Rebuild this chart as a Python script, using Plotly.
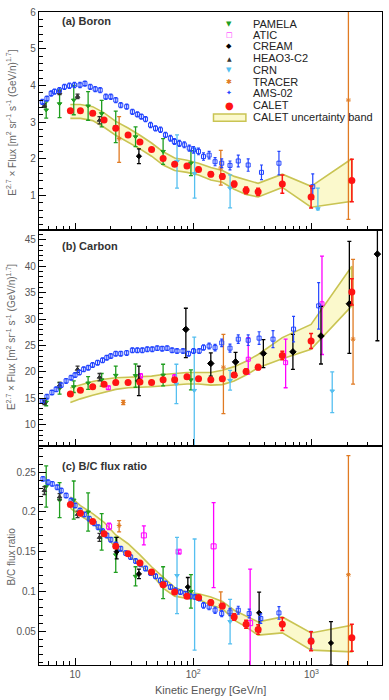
import plotly.graph_objects as go
from plotly.subplots import make_subplots

# ---------------- DATA ----------------
E_calet = [9.13, 11.1, 14.1, 17.6, 22.1, 28.1, 35.4, 44.4, 55.6, 69.6, 88.5, 110.9,
           140.8, 176.3, 222, 280, 354, 567, 993, 2197]
# Boron
calet_b = [3.31, 3.31, 3.24, 3.06, 2.83, 2.65, 2.46, 2.25, 2.01, 1.85, 1.80, 1.71,
           1.58, 1.52, 1.31, 1.14, 1.10, 1.31, 0.96, 1.41]
calet_b_err = [0.02, 0.02, 0.02, 0.02, 0.03, 0.03, 0.03, 0.03, 0.04, 0.04, 0.05, 0.05,
               0.06, 0.07, 0.08, 0.09, 0.1, 0.25, 0.3, 0.58]
band_b_up = [3.48, 3.48, 3.42, 3.25, 3.02, 2.84, 2.64, 2.43, 2.19, 2.02, 1.96, 1.88,
             1.76, 1.68, 1.52, 1.42, 1.33, 1.58, 1.25, 2.00]
band_b_lo = [3.10, 3.10, 3.04, 2.86, 2.64, 2.46, 2.27, 2.07, 1.83, 1.68, 1.63, 1.56,
             1.42, 1.36, 1.17, 1.03, 0.96, 1.22, 0.68, 0.84]
# Carbon
calet_c = [15.8, 16.55, 17.17, 17.68, 17.98, 17.98, 18.1, 17.98, 18.5, 18.5, 19.1, 18.7,
           18.5, 18.7, 19.4, 20.1, 20.9, 23.1, 25.85, 35.15]
calet_c_err = [0.15, 0.15, 0.15, 0.15, 0.2, 0.2, 0.2, 0.2, 0.2, 0.25, 0.25, 0.3,
               0.3, 0.35, 0.4, 0.45, 0.5, 0.8, 1.4, 2.5]
band_c_up = [17.0, 17.6, 18.2, 18.6, 18.9, 19.0, 19.1, 19.2, 19.5, 19.7, 19.9, 19.9,
             19.9, 20.3, 21.0, 22.0, 23.3, 26.5, 29.0, 40.0]
band_c_lo = [14.2, 14.9, 15.6, 16.2, 16.7, 17.0, 17.1, 17.2, 17.4, 17.5, 17.7, 17.7,
             17.5, 17.6, 18.3, 19.4, 20.8, 22.5, 24.3, 32.5]
# B/C
calet_r = [0.2094, 0.1985, 0.188, 0.1726, 0.1567, 0.1475, 0.1357, 0.1244, 0.1085, 0.0992,
           0.0938, 0.0922, 0.0859, 0.0817, 0.0678, 0.0587, 0.052, 0.0587, 0.0373, 0.0415]
calet_r_err = [0.001, 0.001, 0.001, 0.001, 0.0015, 0.0015, 0.0015, 0.002, 0.002, 0.002,
               0.0025, 0.0025, 0.003, 0.003, 0.004, 0.005, 0.006, 0.008, 0.012, 0.017]
band_r_up = [0.219, 0.208, 0.198, 0.187, 0.171, 0.160, 0.146, 0.131, 0.118, 0.105, 0.099,
             0.097, 0.093, 0.0873, 0.0763, 0.0687, 0.0616, 0.0678, 0.0477, 0.0574]
band_r_lo = [0.205, 0.195, 0.186, 0.172, 0.155, 0.146, 0.133, 0.122, 0.104, 0.094, 0.091,
             0.090, 0.0825, 0.0784, 0.0637, 0.0553, 0.0449, 0.0477, 0.026, 0.0239]

# AMS-02
ams_E_b = [5.28, 5.78, 6.28, 6.70, 7.38, 8.13, 8.96, 9.87, 11.02, 12.13, 13.45, 14.81, 16.32,
           18.22, 20.07, 22.11, 24.36, 27.35, 30.54, 33.65, 36.35, 39.5, 43.52, 47.94, 52.8,
           58.17, 64.08, 69.22, 76.27, 84.02, 92.57, 100.6, 110.8, 122.1, 136.3, 153, 174.2,
           204.6, 240.3, 291.6, 377.8, 531, 1026]
ams_b = [3.55, 3.64, 3.78, 3.83, 3.87, 3.96, 3.99, 4.01, 4.01, 4.05, 3.96, 3.90, 3.87, 3.69,
         3.69, 3.60, 3.46, 3.42, 3.28, 3.21, 3.15, 3.08, 2.92, 2.83, 2.79, 2.65, 2.56, 2.47,
         2.42, 2.38, 2.29, 2.24, 2.20, 2.06, 2.10, 1.92, 1.88, 1.82, 1.94, 1.83, 1.63, 1.88, 1.24]
ams_b_err = [0.07] * 26 + [0.08, 0.08, 0.08, 0.08, 0.08, 0.09, 0.09, 0.1, 0.1, 0.11, 0.12,
                           0.12, 0.16, 0.17, 0.2, 0.32, 0.35]
ams_E_c = [5.28, 5.78, 6.37, 6.92, 7.63, 8.40, 9.26, 10.0, 10.87, 11.83, 12.94, 14.08, 15.51,
           17.09, 18.57, 20.07, 22.11, 24.36, 27.35, 30.54, 33.65, 37.07, 40.83, 44.98, 49.55,
           54.58, 60.12, 66.23, 72.95, 81.92, 91.3, 100.6, 112.3, 122.1, 136.3, 153.0, 174.2,
           204.6, 240.3, 291.6, 360.7, 472.9, 706, 1151]
ams_c = [14.5, 15.3, 16.1, 16.7, 17.5, 18.3, 18.9, 19.4, 19.9, 20.5, 20.8, 21.3, 21.75, 22.2,
         22.7, 23.0, 23.45, 23.45, 23.6, 24.1, 24.1, 24.1, 24.3, 24.3, 24.5, 24.4, 24.5, 24.1,
         23.96, 23.96, 23.45, 23.96, 23.96, 24.6, 24.9, 24.6, 25.5, 24.5, 26.2, 26.0, 26.4,
         26.2, 28.1, 32.5]
ams_c_err = [0.45] * 33 + [0.5, 0.55, 0.6, 0.7, 0.75, 0.8, 1.0, 1.2, 1.6, 2.4, 4.4]
ams_E_r = [5.35, 5.90, 6.41, 7.06, 7.63, 8.40, 9.26, 10.0, 11.02, 11.97, 13.19, 14.53, 15.70,
           17.09, 18.57, 20.07, 22.11, 24.36, 26.83, 29.56, 32.55, 35.86, 39.5, 43.52, 47.94,
           52.8, 58.17, 64.08, 70.6, 77.77, 85.67, 94.4, 103.9, 113, 122.1, 136.3, 153, 174.2,
           204.6, 240.3, 297.3, 372.8, 531, 994]
ams_r = [0.2417, 0.2375, 0.2354, 0.2312, 0.227, 0.2207, 0.2145, 0.2082, 0.2019, 0.1969,
         0.1915, 0.1859, 0.1809, 0.1759, 0.1705, 0.1651, 0.1592, 0.1538, 0.1482, 0.1432,
         0.1382, 0.134, 0.1287, 0.1231, 0.119, 0.1139, 0.1098, 0.1055, 0.1014, 0.0992,
         0.0972, 0.0938, 0.093, 0.091, 0.0825, 0.0804, 0.0763, 0.0721, 0.0741, 0.0763,
         0.0721, 0.0658, 0.0729, 0.0386]
ams_r_err = [0.003] * 34 + [0.0035, 0.0035, 0.004, 0.004, 0.0045, 0.005, 0.0055, 0.006,
                            0.008, 0.011]

# PAMELA
pam_E = [5.7, 7.4, 9.75, 12.9, 16.8, 22.1, 32.5, 55.6, 95.6]
pam_b = [3.33, 3.5, 3.6, 3.44, 3.23, 2.87, 2.6, 2.2, 1.88]
pam_b_err = [0.22, 0.38, 0.4, 0.39, 0.36, 0.43, 0.27, 0.35, 0.34]
pam_c = [14.3, 16.9, 17.2, 17.9, 18.5, 19.35, 19.3, 19.4, 18.5]
pam_c_err = [0.7, 1.1, 1.1, 1.2, 1.2, 1.75, 2.2, 2.05, 1.9]
pam_r = [0.232, 0.215, 0.215, 0.20, 0.175, 0.146, 0.119, 0.111, 0.10]
pam_r_err = [0.026, 0.022, 0.024, 0.024, 0.023, 0.022, 0.012, 0.02, 0.021]

# HEAO3-C2
heao_E = [5.5, 7.4, 10.5, 16.1]
heao_b = [3.45, 3.8, 3.7, 3.05]
heao_b_err = [0.05, 0.05, 0.06, 0.1]
heao_c = [14.2, 17.5, 20.5, 19.0]
heao_c_err = [0.4, 0.5, 0.6, 0.7]
heao_r = [0.227, 0.219, 0.197, 0.168]
heao_r_err = [0.005, 0.004, 0.004, 0.005]

# CREAM
cream_E_b = [34.7]
cream_b = [2.07]
cream_b_ep = [0.2]
cream_b_em = [0.2]
cream_E_c = [34.7, 86.6, 140.8, 228, 392, 697, 1204, 2093, 3615]
cream_c = [18.3, 28.05, 21.6, 21.9, 23.5, 23.8, 26.8, 32.9, 42.3]
cream_c_ep = [2.8, 4.0, 2.0, 1.8, 2.6, 3.3, 5.6, 11.8, 5.0]
cream_c_em = [2.8, 5.35, 2.4, 2.6, 2.7, 3.3, 5.3, 9.4, 16.4]
cream_E_r = [22.5, 34.7, 90, 361, 1463]
cream_r = [0.15, 0.122, 0.1055, 0.073, 0.035]
cream_r_ep = [0.018, 0.006, 0.012, 0.026, 0.027]
cream_r_em = [0.009, 0.006, 0.012, 0.024, 0.028]

# ATIC
atic_E_c = [19.1, 35.8, 69.6, 292, 605, 1228]
atic_c = [17.0, 19.25, 19.0, 22.4, 21.75, 32.9]
atic_c_ep = [0.3, 0.4, 0.5, 4.1, 4.45, 9.0]
atic_c_em = [0.3, 0.4, 0.5, 2.8, 4.75, 9.6]
atic_E_r = [19.4, 38.2, 75.2, 148.7, 303]
atic_r = [0.1818, 0.1705, 0.15, 0.1567, 0.06]
atic_r_ep = [0.004, 0.012, 0.002, 0.055, 0.068]
atic_r_em = [0.004, 0.012, 0.002, 0.052, 0.06]

# TRACER
tr_E_b = [23.6, 171, 2055]
tr_b = [2.55, 1.75, 3.6]
tr_b_ep = [0.6, 0.48, 2.5]
tr_b_em = [0.65, 0.47, 3.25]
tr_E_c = [25.6, 180, 2250]
tr_c = [14.2, 20.9, 26.2]
tr_c_ep = [0.4, 6.2, 15.1]
tr_c_em = [0.4, 8.8, 8.5]
tr_E_r = [23.6, 171, 2055]
tr_r = [0.183, 0.0825, 0.121]
tr_r_ep = [0.006, 0.017, 0.15]
tr_r_em = [0.008, 0.006, 0.116]

# CRN
crn_E_b = [72.9, 102.7, 205, 1134]
crn_b = [1.93, 1.6, 1.2, 0.64]
crn_b_ep = [0.72, 0.69, 0.36, 0.56]
crn_b_em = [0.73, 0.67, 0.54, 0.03]
crn_E_c = [72, 102, 205, 1499]
crn_c = [17.7, 16.5, 18.4, 16.4]
crn_c_ep = [3.75, 10.1, 1.9, 3.6]
crn_c_em = [3.7, 11.5, 1.85, 4.1]
crn_E_r = [72.9, 102.7, 205]
crn_r = [0.12, 0.095, 0.062]
crn_r_ep = [0.048, 0.071, 0.028]
crn_r_em = [0.048, 0.069, 0.028]

x_ticks = [10, 100, 1000]
x_ticktext = ["10", "10<sup>2</sup>", "10<sup>3</sup>"]
x_minor = [6, 7, 8, 9, 20, 30, 40, 50, 60, 70, 80, 90,
           200, 300, 400, 500, 600, 700, 800, 900, 2000, 3000]

# ---------------- STYLE ----------------
C_PAM = "#1f9e1f"
C_ATIC = "#ff00ff"
C_CREAM = "#000000"
C_HEAO = "#333333"
C_CRN = "#55bff0"
C_TR = "#e07a22"
C_AMS = "#2244ff"
C_CAL = "#ff1414"
BAND_FILL = "#fbf9cc"
BAND_LINE = "#c9c453"
FONT = "Arial, Liberation Sans, sans-serif"

fig = make_subplots(rows=3, cols=1, shared_xaxes=True, vertical_spacing=0)


def band(row, up, lo):
    fig.add_trace(go.Scatter(x=E_calet + E_calet[::-1], y=up + lo[::-1], mode="lines",
                             fill="toself", fillcolor=BAND_FILL,
                             line=dict(color=BAND_LINE, width=1.6),
                             hoverinfo="skip", showlegend=False), row=row, col=1)


def series(row, x, y, ep, em, color, symbol, size, lw=1.3, cap=2, mlw=1):
    fig.add_trace(go.Scatter(
        x=x, y=y, mode="markers",
        marker=dict(symbol=symbol, size=size, color=color, line=dict(color=color, width=mlw)),
        error_y=dict(type="data", symmetric=False, array=ep, arrayminus=em,
                     color=color, thickness=lw, width=cap),
        showlegend=False), row=row, col=1)


# Panel (a) Boron
band(1, band_b_up, band_b_lo)
series(1, pam_E, pam_b, pam_b_err, pam_b_err, C_PAM, "triangle-down", 4)
series(1, heao_E, heao_b, heao_b_err, heao_b_err, C_HEAO, "triangle-up", 4)
series(1, cream_E_b, cream_b, cream_b_ep, cream_b_em, C_CREAM, "diamond", 4)
series(1, tr_E_b, tr_b, tr_b_ep, tr_b_em, C_TR, "asterisk-open", 4)
series(1, crn_E_b, crn_b, crn_b_ep, crn_b_em, C_CRN, "triangle-down", 4)
series(1, ams_E_b, ams_b, ams_b_err, ams_b_err, C_AMS, "square-open", 4, lw=1.2, cap=1.5)
series(1, E_calet, calet_b, calet_b_err, calet_b_err, C_CAL, "circle", 7, lw=1.5, mlw=0)

# Panel (b) Carbon
band(2, band_c_up, band_c_lo)
series(2, pam_E, pam_c, pam_c_err, pam_c_err, C_PAM, "triangle-down", 4)
series(2, heao_E, heao_c, heao_c_err, heao_c_err, C_HEAO, "triangle-up", 4)
series(2, atic_E_c, atic_c, atic_c_ep, atic_c_em, C_ATIC, "square-open", 4)
series(2, cream_E_c, cream_c, cream_c_ep, cream_c_em, C_CREAM, "diamond", 5)
series(2, tr_E_c, tr_c, tr_c_ep, tr_c_em, C_TR, "asterisk-open", 4)
series(2, crn_E_c, crn_c, crn_c_ep, crn_c_em, C_CRN, "triangle-down", 4)
series(2, ams_E_c, ams_c, ams_c_err, ams_c_err, C_AMS, "square-open", 4, lw=1.2, cap=1.5)
series(2, E_calet, calet_c, calet_c_err, calet_c_err, C_CAL, "circle", 7, lw=1.5, mlw=0)

# Panel (c) B/C
band(3, band_r_up, band_r_lo)
series(3, pam_E, pam_r, pam_r_err, pam_r_err, C_PAM, "triangle-down", 4)
series(3, heao_E, heao_r, heao_r_err, heao_r_err, C_HEAO, "triangle-up", 4)
series(3, atic_E_r, atic_r, atic_r_ep, atic_r_em, C_ATIC, "square-open", 5)
series(3, cream_E_r, cream_r, cream_r_ep, cream_r_em, C_CREAM, "diamond", 4)
series(3, tr_E_r, tr_r, tr_r_ep, tr_r_em, C_TR, "asterisk-open", 4)
series(3, crn_E_r, crn_r, crn_r_ep, crn_r_em, C_CRN, "triangle-down", 4)
series(3, ams_E_r, ams_r, ams_r_err, ams_r_err, C_AMS, "square-open", 4, lw=1.2, cap=1.5)
series(3, E_calet, calet_r, calet_r_err, calet_r_err, C_CAL, "circle", 7, lw=1.5, mlw=0)

# ---------------- LAYOUT ----------------
W, H = 389, 700
ML, MR, MT, MB = 39, 6, 10, 35
PW, PH = W - ML - MR, H - MT - MB


def px_x(px):
    return (px - ML) / PW


def px_y(py):
    return (H - MB - py) / PH


dom_a = [px_y(229), 1.0]
dom_b = [px_y(445), px_y(229)]
dom_c = [0.0, px_y(445)]

axis_common = dict(showline=True, linecolor="black", linewidth=1.2, mirror=True,
                   ticks="inside", ticklen=7, tickwidth=1, tickcolor="black",
                   showgrid=False, zeroline=False,
                   tickfont=dict(family=FONT, size=10, color="#555555"))

for i in (1, 2, 3):
    fig.update_xaxes(type="log", range=[0.695, 3.597], tickmode="array",
                     tickvals=x_ticks, ticktext=x_ticktext,
                     minor=dict(tickmode="array", tickvals=x_minor, ticks="inside",
                                ticklen=4, tickcolor="black", showgrid=False),
                     showticklabels=(i == 3), row=i, col=1, **axis_common)

fig.update_yaxes(range=[0.05, 6.0], dtick=1, tick0=0,
                 minor=dict(dtick=0.2, ticks="inside", ticklen=4, tickcolor="black"),
                 domain=dom_a, row=1, col=1, **axis_common)
fig.update_yaxes(range=[6.04, 46.8], dtick=5, tick0=0,
                 minor=dict(dtick=1, ticks="inside", ticklen=4, tickcolor="black"),
                 domain=dom_b, row=2, col=1, **axis_common)
fig.update_yaxes(range=[0.0073, 0.2835], dtick=0.05, tick0=0,
                 minor=dict(dtick=0.01, ticks="inside", ticklen=4, tickcolor="black"),
                 domain=dom_c, row=3, col=1, **axis_common)

ann = []
TXT = "#333333"
flux_title = ("E<sup>2.7</sup> × Flux [m<sup>2</sup> sr<sup>-1</sup> s<sup>-1</sup> "
              "(GeV/n)<sup>1.7</sup>]")
for title, yc in ((flux_title, 121), (flux_title, 336), ("B/C flux ratio", 556)):
    ann.append(dict(text=title, xref="paper", yref="paper", x=px_x(11), y=px_y(yc),
                    textangle=-90, showarrow=False, xanchor="center", yanchor="middle",
                    font=dict(family=FONT, size=10, color="#666666")))
ann.append(dict(text="Kinetic Energy [GeV/n]", xref="paper", yref="paper",
                x=px_x(211), y=px_y(690), showarrow=False, xanchor="center",
                yanchor="middle", font=dict(family=FONT, size=11, color="#555555")))
for label, ty in (("(a) Boron", 19), ("(b) Carbon", 245), ("(c) B/C flux ratio", 465)):
    ann.append(dict(text="<b>" + label + "</b>", xref="paper", yref="paper",
                    x=px_x(60), y=px_y(ty), showarrow=False, xanchor="left",
                    yanchor="middle", font=dict(family=FONT, size=11, color=TXT)))

# manual legend
legend_items = [("PAMELA", "▼", C_PAM, 7), ("ATIC", "□", C_ATIC, 7), ("CREAM", "◆", C_CREAM, 7),
                ("HEAO3-C2", "▲", C_HEAO, 6), ("CRN", "▼", C_CRN, 7), ("TRACER", "✱", C_TR, 7),
                ("AMS-02", "✦", C_AMS, 7), ("CALET", "●", C_CAL, 10)]
row_y = [21.7, 33.3, 44.5, 56.5, 68.3, 80, 91.5, 103.3]
for (name, sym, col, sz), yy in zip(legend_items, row_y):
    ann.append(dict(text=sym, xref="paper", yref="paper", x=px_x(230), y=px_y(yy),
                    showarrow=False, xanchor="center", yanchor="middle",
                    font=dict(family="DejaVu Sans", size=sz, color=col)))
    ann.append(dict(text=name, xref="paper", yref="paper", x=px_x(252), y=px_y(yy),
                    showarrow=False, xanchor="left", yanchor="middle",
                    font=dict(family=FONT, size=11, color="#222222")))
ann.append(dict(text="CALET uncertainty band", xref="paper", yref="paper", x=px_x(252),
                y=px_y(115.8), showarrow=False, xanchor="left", yanchor="middle",
                font=dict(family=FONT, size=11, color="#222222")))

shapes = [dict(type="rect", xref="paper", yref="paper", x0=px_x(214), x1=px_x(246.5),
               y0=px_y(119.5), y1=px_y(112.3), fillcolor=BAND_FILL,
               line=dict(color=BAND_LINE, width=1.5), layer="above")]

fig.update_layout(width=W, height=H, margin=dict(l=ML, r=MR, t=MT, b=MB),
                  paper_bgcolor="white", plot_bgcolor="white", showlegend=False,
                  annotations=ann, shapes=shapes, font=dict(family=FONT))

fig.write_html("out.html", config={"displayModeBar": False},
               post_script="document.body.style.margin='0';document.body.style.padding='0';"
                           "document.body.style.overflow='hidden';")
